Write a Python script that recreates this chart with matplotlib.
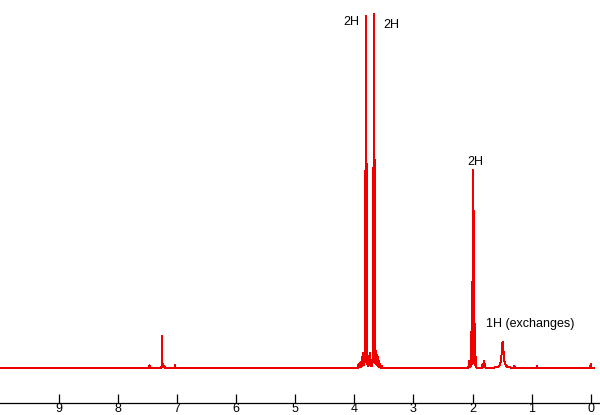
import numpy as np
import matplotlib
matplotlib.use("Agg")
import matplotlib.pyplot as plt

plt.rcParams['font.family'] = ['Liberation Sans', 'DejaVu Sans']

# peak list (ppm, relative height, half width in ppm)
peak_ppm = [7.47, 7.26, 7.24, 7.22, 7.04,
            3.93, 3.90, 3.87, 3.85, 3.82, 3.805, 3.79,
            3.76, 3.74, 3.72,
            3.685, 3.67, 3.655, 3.63, 3.61, 3.59, 3.57, 3.54,
            2.06, 2.025, 2.01, 1.995, 1.98, 1.965, 1.95,
            1.83, 1.81, 1.79,
            1.49, 1.29, 0.91, 0.0]
peak_height = [0.008, 0.09, 0.012, 0.006, 0.008,
               0.01, 0.015, 0.03, 0.04, 0.55, 0.99, 0.57,
               0.03, 0.04, 0.02,
               0.56, 0.995, 0.58, 0.045, 0.035, 0.02, 0.01, 0.006,
               0.02, 0.10, 0.24, 0.555, 0.44, 0.12, 0.03,
               0.012, 0.018, 0.01,
               0.075, 0.005, 0.006, 0.012]
peak_width = [0.003, 0.0012, 0.004, 0.004, 0.002,
              0.003, 0.003, 0.003, 0.003, 0.0012, 0.0012, 0.0012,
              0.003, 0.003, 0.003,
              0.0012, 0.0012, 0.0012, 0.003, 0.003, 0.003, 0.003, 0.003,
              0.003, 0.0012, 0.0012, 0.0012, 0.0012, 0.0012, 0.003,
              0.003, 0.003, 0.003,
              0.018, 0.003, 0.003, 0.003]

# integration labels: text, ppm, height
label_text = ["2H", "2H", "2H", "1H (exchanges)"]
label_ppm = [4.06, 3.38, 1.96, 1.03]
label_y = [0.98, 0.973, 0.584, 0.125]

tick_values = [0, 1, 2, 3, 4, 5, 6, 7, 8, 9]

ppm = np.arange(-0.05, 10.0, 0.0002)
spectrum = np.zeros_like(ppm)
for p, h, w in zip(peak_ppm, peak_height, peak_width):
    spectrum += h / (1 + ((ppm - p) / w) ** 2)

fig = plt.figure(figsize=(6, 4.15), dpi=100)
ax = fig.add_axes([0, 12 / 415, 1, 403 / 415])
ax.plot(ppm, spectrum, color='#ee0000', lw=0.7, antialiased=False)

for t, x, y in zip(label_text, label_ppm, label_y):
    ax.text(x, y, t, ha='center', va='center', fontsize=9, color='black')

ax.set_xlim(10, 10 - 600 / 59.07)
ax.set_ylim(-35 / 353, 368 / 353)
for s in ['top', 'left', 'right']:
    ax.spines[s].set_visible(False)
ax.spines['bottom'].set_linewidth(0.9)
ax.set_yticks([])
ax.set_xticks(tick_values)
ax.set_xticklabels([str(v) for v in tick_values])
ax.tick_params(axis='x', direction='in', length=6.5, width=0.9, pad=0,
               labelsize=9)

fig.savefig("out.png", dpi=100)
